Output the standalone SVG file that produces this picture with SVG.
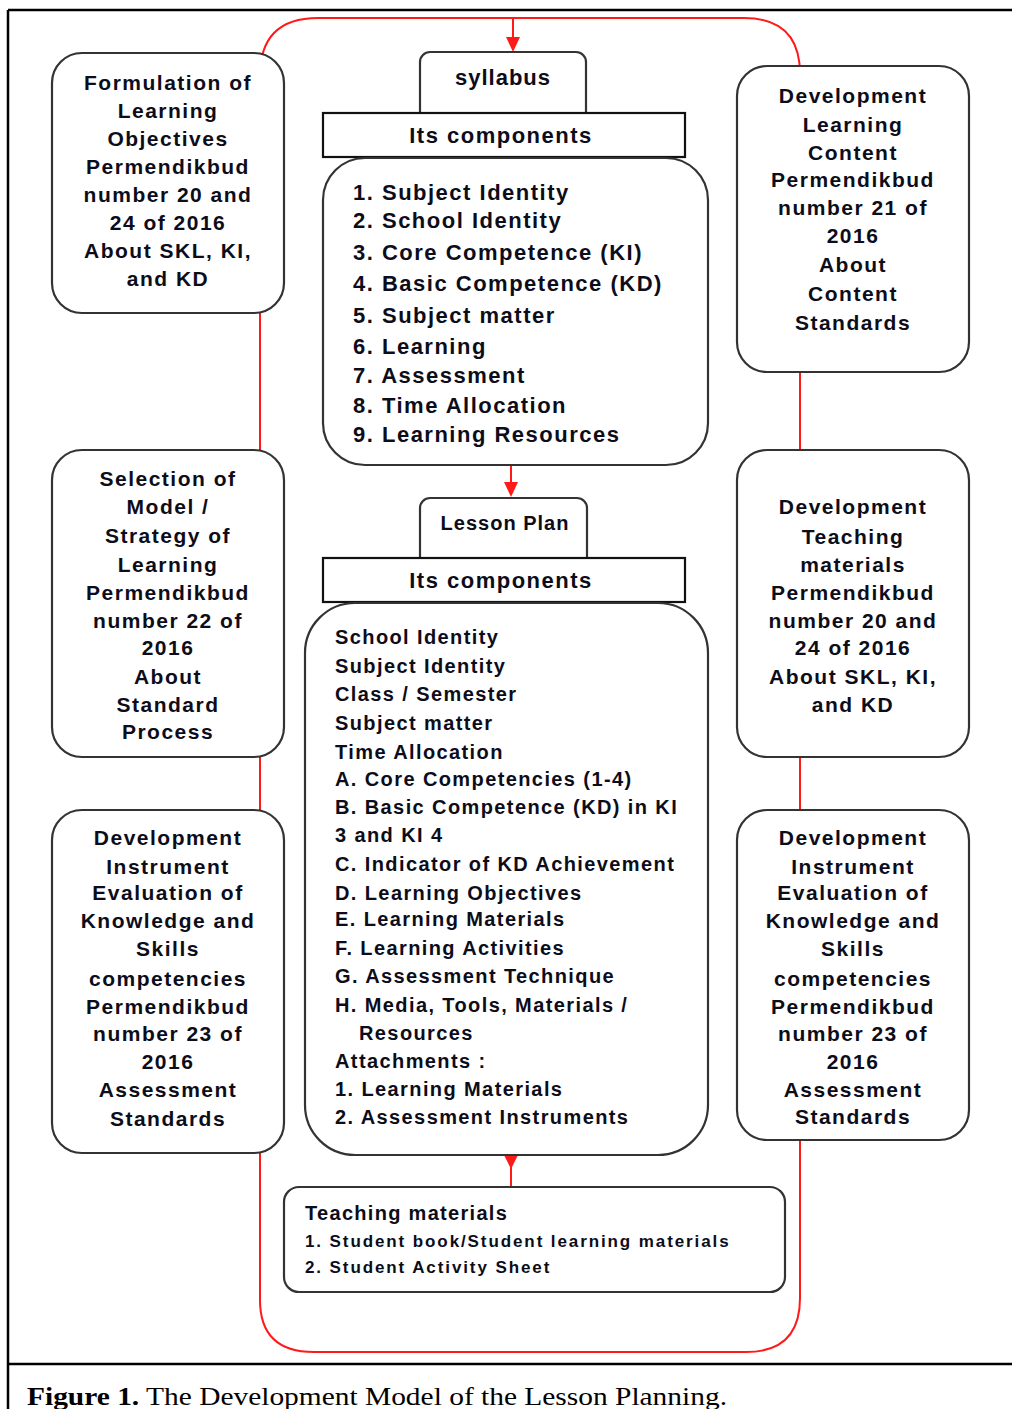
<svg xmlns="http://www.w3.org/2000/svg" width="1012" height="1409" viewBox="0 0 1012 1409">
<defs>
<style>
.box{fill:#fff;stroke:#333;stroke-width:2.2}
.rect{fill:#fff;stroke:#111;stroke-width:2.2}
.red{fill:none;stroke:#ff1a1a;stroke-width:2}
.head{fill:#ff1a1a}
.side{font-family:"Liberation Sans",Arial,sans-serif;font-weight:bold;font-size:21px;letter-spacing:1.5px;fill:#0d0d1a;text-anchor:middle}
.syl{font-family:"Liberation Sans",Arial,sans-serif;font-weight:bold;font-size:22px;letter-spacing:1.5px;fill:#0d0d1a}
.les{font-family:"Liberation Sans",Arial,sans-serif;font-weight:bold;font-size:20px;letter-spacing:1.4px;fill:#0d0d1a}
.hdr{font-family:"Liberation Sans",Arial,sans-serif;font-weight:bold;font-size:22px;letter-spacing:1.5px;fill:#0d0d1a;text-anchor:middle}
</style>
</defs>
<rect width="1012" height="1409" fill="#fff"/>
<g id="frame" stroke="#000" stroke-width="2.5" fill="none">
<path d="M8,10 L1012,10 M8,10 L8,1409 M8,1364 L1012,1364"/>
</g>
<g id="connectors">
<path class="red" d="M260,1300 L260,76 Q260,18 318,18 L744,18 Q800,18 800,74 L800,1298 Q800,1352 746,1352 L314,1352 Q260,1352 260,1300 Z"/>
<line class="red" x1="513" y1="18" x2="513" y2="40"/>
<path class="head" d="M506,37 L520,37 L513,52 Z"/>
<line class="red" x1="511" y1="465" x2="511" y2="485"/>
<path class="head" d="M504,482 L518,482 L511,497 Z"/>
<line class="red" x1="511" y1="1155" x2="511" y2="1187"/>
<path class="head" d="M504,1155 L518,1155 L511,1169 Z"/>
</g>
<g id="L1">
<rect class="box" x="52" y="53" width="232" height="260" rx="30"/>
<text class="side"><tspan x="168" y="90">Formulation of</tspan><tspan x="168" y="118">Learning</tspan><tspan x="168" y="146">Objectives</tspan><tspan x="168" y="174">Permendikbud</tspan><tspan x="168" y="202">number 20 and</tspan><tspan x="168" y="230">24 of 2016</tspan><tspan x="168" y="258">About SKL, KI,</tspan><tspan x="168" y="286">and KD</tspan></text>
</g>
<g id="L2">
<rect class="box" x="52" y="450" width="232" height="307" rx="30"/>
<text class="side"><tspan x="168" y="486">Selection of</tspan><tspan x="168" y="514">Model /</tspan><tspan x="168" y="543">Strategy of</tspan><tspan x="168" y="572">Learning</tspan><tspan x="168" y="600">Permendikbud</tspan><tspan x="168" y="628">number 22 of</tspan><tspan x="168" y="655">2016</tspan><tspan x="168" y="684">About</tspan><tspan x="168" y="712">Standard</tspan><tspan x="168" y="739">Process</tspan></text>
</g>
<g id="L3">
<rect class="box" x="52" y="810" width="232" height="343" rx="30"/>
<text class="side"><tspan x="168" y="845">Development</tspan><tspan x="168" y="874">Instrument</tspan><tspan x="168" y="900">Evaluation of</tspan><tspan x="168" y="928">Knowledge and</tspan><tspan x="168" y="956">Skills</tspan><tspan x="168" y="986">competencies</tspan><tspan x="168" y="1014">Permendikbud</tspan><tspan x="168" y="1041">number 23 of</tspan><tspan x="168" y="1069">2016</tspan><tspan x="168" y="1097">Assessment</tspan><tspan x="168" y="1126">Standards</tspan></text>
</g>
<g id="R1">
<rect class="box" x="737" y="66" width="232" height="306" rx="30"/>
<text class="side"><tspan x="853" y="103">Development</tspan><tspan x="853" y="132">Learning</tspan><tspan x="853" y="160">Content</tspan><tspan x="853" y="187">Permendikbud</tspan><tspan x="853" y="215">number 21 of</tspan><tspan x="853" y="243">2016</tspan><tspan x="853" y="272">About</tspan><tspan x="853" y="301">Content</tspan><tspan x="853" y="330">Standards</tspan></text>
</g>
<g id="R2">
<rect class="box" x="737" y="450" width="232" height="307" rx="30"/>
<text class="side"><tspan x="853" y="514">Development</tspan><tspan x="853" y="544">Teaching</tspan><tspan x="853" y="572">materials</tspan><tspan x="853" y="600">Permendikbud</tspan><tspan x="853" y="628">number 20 and</tspan><tspan x="853" y="655">24 of 2016</tspan><tspan x="853" y="684">About SKL, KI,</tspan><tspan x="853" y="712">and KD</tspan></text>
</g>
<g id="R3">
<rect class="box" x="737" y="810" width="232" height="330" rx="30"/>
<text class="side"><tspan x="853" y="845">Development</tspan><tspan x="853" y="874">Instrument</tspan><tspan x="853" y="900">Evaluation of</tspan><tspan x="853" y="928">Knowledge and</tspan><tspan x="853" y="956">Skills</tspan><tspan x="853" y="986">competencies</tspan><tspan x="853" y="1014">Permendikbud</tspan><tspan x="853" y="1041">number 23 of</tspan><tspan x="853" y="1069">2016</tspan><tspan x="853" y="1097">Assessment</tspan><tspan x="853" y="1124">Standards</tspan></text>
</g>
<g id="syllabus">
<rect class="box" x="420" y="52" width="166" height="75" rx="10"/>
<text class="hdr" x="503" y="85" style="letter-spacing:1px">syllabus</text>
</g>
<g id="syllabus-components">
<rect class="rect" x="323" y="113" width="362" height="44"/>
<text class="hdr" x="501" y="143">Its components</text>
</g>
<g id="syllabus-list">
<rect class="box" x="323" y="158" width="385" height="307" rx="42"/>
<text class="syl"><tspan x="353" y="200">1. Subject Identity</tspan><tspan x="353" y="228">2. School Identity</tspan><tspan x="353" y="260">3. Core Competence (KI)</tspan><tspan x="353" y="291">4. Basic Competence (KD)</tspan><tspan x="353" y="323">5. Subject matter</tspan><tspan x="353" y="354">6. Learning</tspan><tspan x="353" y="383">7. Assessment</tspan><tspan x="353" y="413">8. Time Allocation</tspan><tspan x="353" y="442">9. Learning Resources</tspan></text>
</g>
<g id="lesson-plan">
<rect class="box" x="420" y="498" width="167" height="75" rx="10"/>
<text class="hdr" x="505" y="530" style="font-size:20px;letter-spacing:1px">Lesson Plan</text>
</g>
<g id="lesson-components">
<rect class="rect" x="323" y="558" width="362" height="44"/>
<text class="hdr" x="501" y="588">Its components</text>
</g>
<g id="lesson-list">
<rect class="box" x="305" y="603" width="403" height="552" rx="50"/>
<text class="les"><tspan x="335" y="644">School Identity</tspan><tspan x="335" y="673">Subject Identity</tspan><tspan x="335" y="701">Class / Semester</tspan><tspan x="335" y="730">Subject matter</tspan><tspan x="335" y="759">Time Allocation</tspan><tspan x="335" y="786">A. Core Competencies (1-4)</tspan><tspan x="335" y="814">B. Basic Competence (KD) in KI</tspan><tspan x="335" y="842">3 and KI 4</tspan><tspan x="335" y="871">C. Indicator of KD Achievement</tspan><tspan x="335" y="900">D. Learning Objectives</tspan><tspan x="335" y="926">E. Learning Materials</tspan><tspan x="335" y="955">F. Learning Activities</tspan><tspan x="335" y="983">G. Assessment Technique</tspan><tspan x="335" y="1012">H. Media, Tools, Materials /</tspan><tspan x="359" y="1040">Resources</tspan><tspan x="335" y="1068">Attachments :</tspan><tspan x="335" y="1096">1. Learning Materials</tspan><tspan x="335" y="1124">2. Assessment Instruments</tspan></text>
</g>
<g id="teaching-materials">
<rect class="box" x="284" y="1187" width="501" height="105" rx="15"/>
<text class="les" x="305" y="1220" style="letter-spacing:1.3px">Teaching materials</text>
<text class="les" x="305" y="1247" style="font-size:17px;letter-spacing:1.9px">1. Student book/Student learning materials</text>
<text class="les" x="305" y="1273" style="font-size:17px;letter-spacing:1.9px">2. Student Activity Sheet</text>
</g>
<g id="caption">
<text x="27" y="1405" textLength="700" lengthAdjust="spacingAndGlyphs" style="font-family:'Liberation Serif','Times New Roman',serif;font-size:26px;fill:#000"><tspan font-weight="bold">Figure 1.</tspan> The Development Model of the Lesson Planning.</text>
</g>
</svg>
